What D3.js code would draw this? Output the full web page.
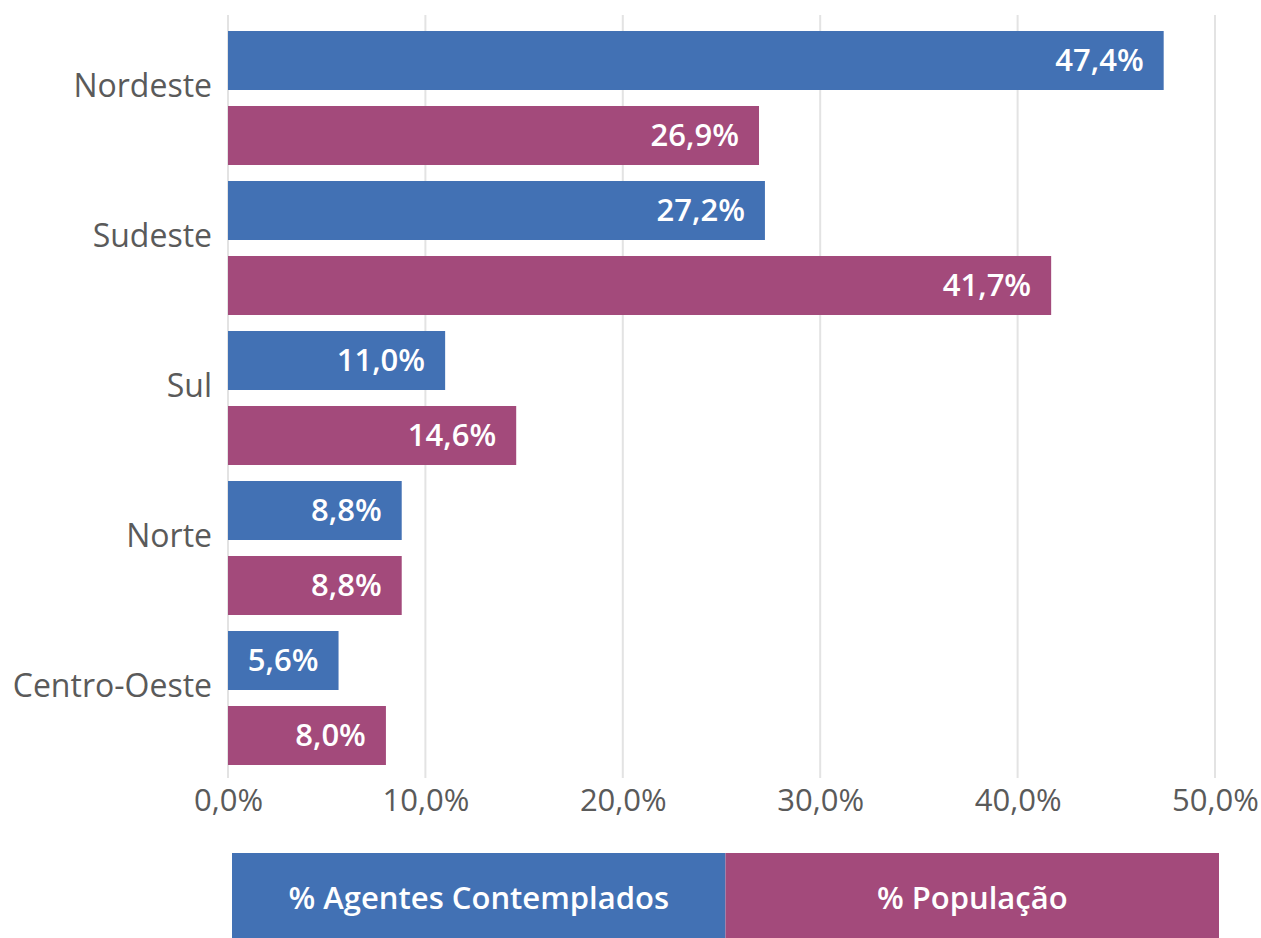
<!DOCTYPE html>
<html>
<head>
<meta charset="utf-8">
<script src="https://cdn.jsdelivr.net/npm/d3@7"></script>
<style>
  body { margin: 0; background: #fff; }
  svg text { font-family: "Open Sans", Lato, sans-serif; }
</style>
</head>
<body>
<svg id="chart" width="1261" height="938"></svg>
<script>
// data
const regions = ['Nordeste', 'Sudeste', 'Sul', 'Norte', 'Centro-Oeste']
const seriesNames = ['% Agentes Contemplados', '% População']
const agentes = [47.4, 27.2, 11.0, 8.8, 5.6]
const populacao = [26.9, 41.7, 14.6, 8.8, 8.0]
const xTicks = [0, 10, 20, 30, 40, 50]

const colors = ['#4271b4', '#a34a7b']

const svg = d3.select('#chart')

// pt-BR style number formatting: comma as decimal mark
const locale = d3.formatLocale({decimal: ',', thousands: '.', grouping: [3], currency: ['R$', '']})
const fmt = v => locale.format('.1f')(v) + '%'

const x = d3.scaleLinear().domain([0, 50]).range([228, 1215])
const y = d3.scaleBand().domain(regions).range([23, 773])
const ySub = d3.scaleBand().domain(seriesNames).range([0, y.bandwidth()])
  .paddingInner(16 / 75).paddingOuter(8 / 75)

// gridlines
svg.append('g').selectAll('line').data(xTicks).enter().append('line')
  .attr('x1', d => x(d)).attr('x2', d => x(d))
  .attr('y1', 15).attr('y2', 778)
  .attr('stroke', '#e3e3e3').attr('stroke-width', 2)

// x axis labels
const xAxis = d3.axisBottom(x).tickValues(xTicks).tickFormat(fmt).tickSize(0).tickPadding(11)
const gx = svg.append('g').attr('transform', 'translate(0,778)').call(xAxis)
gx.select('.domain').remove()
gx.selectAll('text').attr('fill', '#5a5a5a').style('font-size', '31px')

// category labels
const yAxis = d3.axisLeft(y).tickSize(0).tickPadding(16)
const gy = svg.append('g').attr('transform', 'translate(228,-11)').call(yAxis)
gy.select('.domain').remove()
gy.selectAll('text').attr('fill', '#5a5a5a').style('font-size', '32px')

// bars
const rows = regions.map((r, i) => ({region: r, values: [agentes[i], populacao[i]]}))
const groups = svg.append('g').selectAll('g').data(rows).enter().append('g')
  .attr('transform', d => `translate(0,${y(d.region)})`)

const bars = groups.selectAll('g').data(d => d.values.map((v, j) => ({name: seriesNames[j], value: v, j}))).enter().append('g')

bars.append('rect')
  .attr('x', x(0))
  .attr('y', d => ySub(d.name))
  .attr('width', d => x(d.value) - x(0))
  .attr('height', ySub.bandwidth())
  .attr('fill', d => colors[d.j])

bars.append('text')
  .attr('x', d => x(d.value) - 20)
  .attr('y', d => ySub(d.name) + ySub.bandwidth() / 2)
  .attr('dy', '0.35em')
  .attr('text-anchor', 'end')
  .attr('fill', '#fff')
  .style('font-size', '31px')
  .style('font-weight', 600)
  .text(d => fmt(d.value))

// legend
const legendX = d3.scaleBand().domain(seriesNames).range([232, 1219])
const legend = svg.append('g').selectAll('g').data(seriesNames).enter().append('g')
legend.append('rect')
  .attr('x', d => legendX(d)).attr('y', 853)
  .attr('width', legendX.bandwidth()).attr('height', 85)
  .attr('fill', (d, i) => colors[i])
legend.append('text')
  .attr('x', d => legendX(d) + legendX.bandwidth() / 2)
  .attr('y', 898)
  .attr('dy', '0.35em')
  .attr('text-anchor', 'middle')
  .attr('fill', '#fff')
  .style('font-size', '31px')
  .style('font-weight', 600)
  .text(d => d)
</script>
</body>
</html>
